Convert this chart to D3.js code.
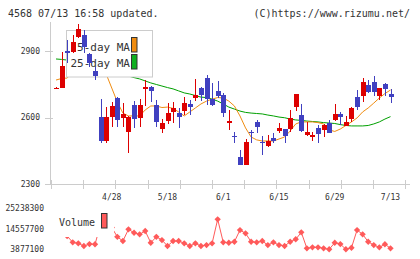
<!DOCTYPE html>
<html>
<head>
<meta charset="utf-8">
<script src="https://cdn.jsdelivr.net/npm/d3@7"></script>
<style>
    body { margin: 0; background: #fff; }
    text { font-family: "DejaVu Sans Mono", monospace; }
</style>
</head>
<body>
<div id="chart"></div>
<script>
// trading days 4/14 .. 7/13
var dates = ["4/14","4/15","4/18","4/19","4/20","4/21","4/22","4/25","4/26","4/27","4/28",
    "5/2","5/6","5/9","5/10","5/11","5/12","5/13","5/16","5/17","5/18",
    "5/19","5/20","5/23","5/24","5/25","5/26","5/27","5/30","5/31","6/1",
    "6/2","6/3","6/6","6/7","6/8","6/9","6/10","6/13","6/14","6/15",
    "6/16","6/17","6/20","6/21","6/22","6/23","6/24","6/27","6/28","6/29",
    "6/30","7/1","7/4","7/5","7/6","7/7","7/8","7/11","7/12","7/13"];
var openP = [2730,2733,2900,2897,2965,2972,2885,2811,2604,2495,2604,2689,2598,2536,2656,2597,2727,2739,2656,2547,2586,
    2626,2619,2631,2662,2687,2734,2777,2683,2720,2702,2577,2517,2421,2386,2533,2581,2491,2472,2509,2539,
    2547,2548,2649,2611,2521,2513,2551,2544,2577,2589,2616,2563,2593,2694,2698,2747,2759,2698,2751,2706];
var highP = [2737,2897,2950,2972,3022,2995,2890,2829,2683,2647,2671,2692,2665,2607,2676,2683,2769,2742,2679,2593,2665,
    2671,2643,2693,2679,2774,2739,2792,2754,2765,2709,2634,2536,2453,2503,2544,2589,2517,2521,2529,2577,
    2548,2634,2706,2661,2581,2536,2566,2571,2589,2661,2626,2607,2649,2724,2777,2769,2787,2732,2754,2727];
var lowP = [2728,2733,2845,2890,2957,2890,2830,2769,2486,2486,2559,2559,2557,2441,2553,2559,2652,2671,2559,2530,2571,
    2574,2553,2611,2611,2676,2676,2656,2652,2687,2601,2544,2486,2386,2386,2484,2532,2431,2466,2486,2532,
    2486,2536,2631,2536,2517,2495,2486,2511,2529,2584,2566,2562,2581,2634,2671,2709,2697,2679,2697,2667];
var closeP = [2735,2832,2890,2942,2998,2917,2847,2789,2495,2604,2652,2589,2616,2604,2593,2656,2739,2721,2581,2577,2620,
    2642,2604,2667,2649,2702,2702,2682,2656,2698,2619,2584,2512,2386,2491,2529,2559,2486,2494,2495,2551,
    2517,2599,2706,2539,2536,2521,2524,2566,2532,2616,2604,2581,2641,2649,2759,2716,2714,2732,2727,2691];
var ma5 = [2769,2776,2778,2805,2837,2868,2882,2877,2841,2796,2733,2670,2620,2607,2607,2607,2634,2652,2652,2645,
    2647,2641,2625,2607,2625,2643,2661,2674,2683,2690,2688,2674,2652,2607,2553,2512,2499,2494,2494,2494,
    2503,2512,2539,2571,2580,2580,2580,2577,2571,2544,2537,2548,2564,2580,2598,2625,2643,2665,2688,2708,2724];
var ma25 = [2864,2862,2859,2855,2850,2844,2837,2830,2823,2814,2808,2801,2794,2787,2780,2774,2765,2756,2749,2742,
    2735,2729,2720,2711,2706,2699,2692,2690,2683,2674,2661,2647,2638,2629,2623,2620,2618,2616,2611,2607,
    2602,2599,2593,2589,2587,2584,2582,2580,2577,2575,2573,2568,2564,2562,2562,2562,2564,2571,2580,2593,2604];
var volume = [12500000,14000000,10900000,7600000,7100000,5700000,6700000,6600000,17000000,16600000,
    15300000,10500000,8300000,14400000,12600000,11800000,13500000,7400000,10500000,8800000,
    5700000,8300000,8300000,7100000,5700000,7100000,5700000,6200000,7100000,19600000,
    7600000,7400000,7900000,14000000,12300000,7900000,7600000,8300000,6200000,7600000,
    6200000,5700000,7900000,9200000,12800000,4500000,5000000,5000000,4500000,4000000,
    7400000,6700000,4000000,4800000,14000000,11800000,7900000,6200000,5000000,6600000,4500000];
var priceTicks = [2300, 2600, 2900];
var volumeTicks = [3877100, 14557700, 25238300];
var dateLabels = ["4/28", "5/18", "6/1", "6/15", "6/29", "7/13"];

var W = 420, H = 259;
var upColor = "#dd0000", downColor = "#4040c0";
var axisColor = "#cccccc";

var svg = d3.select("#chart").append("svg")
    .attr("width", W)
    .attr("height", H);

// header
svg.append("text")
    .attr("x", 8).attr("y", 16.5)
    .attr("font-size", 10).attr("fill", "#333")
    .text("4568 07/13 16:58 updated.");
svg.append("text")
    .attr("x", 410).attr("y", 16.5)
    .attr("text-anchor", "end")
    .attr("font-size", 10).attr("fill", "#333")
    .text("(C)https://www.rizumu.net/");

var x = d3.scalePoint()
    .domain(dates)
    .range([56, 390.5]);

var y = d3.scaleLinear()
    .domain([2300, 2900])
    .range([184, 51]);

var yVol = d3.scaleLinear()
    .domain([3877100, 25238300])
    .range([249.5, 208.5]);

var idx = d3.range(dates.length);

// axes
var axisG = svg.append("g").attr("shape-rendering", "crispEdges");
axisG.append("line")
    .attr("x1", 50.5).attr("x2", 50.5)
    .attr("y1", 22).attr("y2", 184)
    .attr("stroke", axisColor);
axisG.append("line")
    .attr("x1", 45).attr("x2", 410)
    .attr("y1", Math.round(y(2300)) + 0.5).attr("y2", Math.round(y(2300)) + 0.5)
    .attr("stroke", axisColor);

axisG.selectAll(".ytick")
    .data(priceTicks)
    .enter().append("line")
    .attr("class", "ytick")
    .attr("x1", 45).attr("x2", 53)
    .attr("y1", function(d) { return Math.round(y(d)) + 0.5; })
    .attr("y2", function(d) { return Math.round(y(d)) + 0.5; })
    .attr("stroke", axisColor);

svg.selectAll(".ylabel")
    .data(priceTicks)
    .enter().append("text")
    .attr("class", "ylabel")
    .attr("x", 40)
    .attr("y", function(d) { return y(d); })
    .attr("dy", "0.35em")
    .attr("text-anchor", "end")
    .attr("font-size", 8).attr("fill", "#333")
    .text(function(d) { return d; });

// bottom tick marks (every 32px, like the original grid)
axisG.selectAll(".xtick")
    .data(d3.range(0, 12))
    .enter().append("line")
    .attr("class", "xtick")
    .attr("x1", function(d) { return Math.round(51 + d * 32.2) + 0.5; })
    .attr("x2", function(d) { return Math.round(51 + d * 32.2) + 0.5; })
    .attr("y1", 180).attr("y2", 189)
    .attr("stroke", axisColor);

svg.selectAll(".xlabel")
    .data(dateLabels)
    .enter().append("text")
    .attr("class", "xlabel")
    .attr("x", function(d) { return x(d); })
    .attr("y", 200)
    .attr("text-anchor", "middle")
    .attr("font-size", 8).attr("fill", "#333")
    .text(function(d) { return d; });

// moving averages (under the legend)
var maLine = function(arr) {
    return d3.line()
        .x(function(i) { return x(dates[i]); })
        .y(function(i) { return y(arr[i]); })(idx);
};
svg.append("path")
    .attr("d", maLine(ma25))
    .attr("fill", "none")
    .attr("stroke", "#00a000")
    .attr("stroke-width", 1);
svg.append("path")
    .attr("d", maLine(ma5))
    .attr("fill", "none")
    .attr("stroke", "#f08c10")
    .attr("stroke-width", 1);

// legend box
var leg = svg.append("g");
leg.append("rect")
    .attr("x", 66.5).attr("y", 30.5)
    .attr("width", 86).attr("height", 46.5)
    .attr("fill", "#fff")
    .attr("stroke", "#cccccc");
leg.append("text")
    .attr("x", 130).attr("y", 51)
    .attr("text-anchor", "end")
    .attr("font-size", 11).attr("fill", "#333")
    .text("5-day MA");
leg.append("text")
    .attr("x", 130).attr("y", 67)
    .attr("text-anchor", "end")
    .attr("font-size", 11).attr("fill", "#333")
    .text("25-day MA");
leg.append("rect")
    .attr("x", 131.5).attr("y", 37.5)
    .attr("width", 5.5).attr("height", 14.5)
    .attr("fill", "#f08c10").attr("stroke", "#333");
leg.append("rect")
    .attr("x", 131.5).attr("y", 54.5)
    .attr("width", 5.5).attr("height", 14.5)
    .attr("fill", "#10b020").attr("stroke", "#333");

// candles
var candles = svg.append("g").attr("shape-rendering", "crispEdges");
var color = function(i) { return closeP[i] >= openP[i] ? upColor : downColor; };

candles.selectAll(".wick")
    .data(idx)
    .enter().append("line")
    .attr("class", "wick")
    .attr("x1", function(i) { return Math.round(x(dates[i])) + 0.5; })
    .attr("x2", function(i) { return Math.round(x(dates[i])) + 0.5; })
    .attr("y1", function(i) { return y(highP[i]); })
    .attr("y2", function(i) { return y(lowP[i]); })
    .attr("stroke", color);

candles.selectAll(".body")
    .data(idx)
    .enter().append("rect")
    .attr("class", "body")
    .attr("x", function(i) { return Math.round(x(dates[i])) - 2; })
    .attr("width", 5)
    .attr("y", function(i) { return y(Math.max(openP[i], closeP[i])); })
    .attr("height", function(i) {
        return Math.max(1, Math.abs(y(openP[i]) - y(closeP[i])));
    })
    .attr("fill", color);

// volume panel
svg.selectAll(".vlabel")
    .data(volumeTicks)
    .enter().append("text")
    .attr("class", "vlabel")
    .attr("x", 44)
    .attr("y", function(d) { return yVol(d); })
    .attr("dy", "0.35em")
    .attr("text-anchor", "end")
    .attr("font-size", 8).attr("fill", "#333")
    .text(function(d) { return d; });

var volColor = "#ff5a5a";
svg.append("path")
    .attr("d", d3.line()
        .x(function(i) { return x(dates[i]); })
        .y(function(i) { return yVol(volume[i]); })(idx))
    .attr("fill", "none")
    .attr("stroke", volColor)
    .attr("stroke-width", 1);

svg.selectAll(".vdot")
    .data(idx)
    .enter().append("path")
    .attr("class", "vdot")
    .attr("d", d3.symbol().type(d3.symbolSquare).size(20))
    .attr("transform", function(i) {
        return "translate(" + x(dates[i]) + "," + yVol(volume[i]) + ")rotate(45)";
    })
    .attr("fill", volColor);

// volume legend (opaque, hides the first points)
svg.append("rect")
    .attr("x", 51).attr("y", 205)
    .attr("width", 63).attr("height", 32)
    .attr("fill", "#fff");
svg.append("text")
    .attr("x", 59).attr("y", 226)
    .attr("font-size", 10).attr("fill", "#333")
    .text("Volume");
svg.append("rect")
    .attr("x", 101.5).attr("y", 213.5)
    .attr("width", 5.5).attr("height", 14.5)
    .attr("fill", volColor).attr("stroke", "#333");
</script>
</body>
</html>
